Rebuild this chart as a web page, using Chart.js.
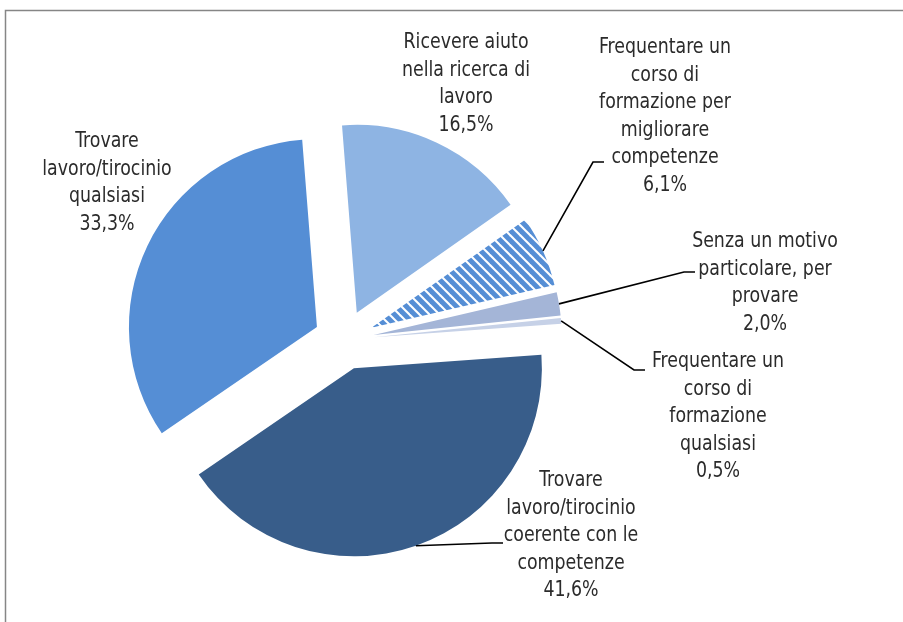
<!DOCTYPE html>
<html>
<head>
<meta charset="utf-8">
<script src="https://cdn.jsdelivr.net/npm/chart.js@4"></script>
<style>
  body { margin: 0; background: #fff; }
</style>
</head>
<body>
<canvas id="myChart" width="903" height="622"></canvas>
<script>
// slices, clockwise from the top
const categories = [
    'Ricevere aiuto\nnella ricerca di\nlavoro',
    'Frequentare un\ncorso di\nformazione per\nmigliorare\ncompetenze',
    'Senza un motivo\nparticolare, per\nprovare',
    'Frequentare un\ncorso di\nformazione\nqualsiasi',
    'Trovare\nlavoro/tirocinio\ncoerente con le\ncompetenze',
    'Trovare\nlavoro/tirocinio\nqualsiasi'
];
const percent = [16.5, 6.1, 2.0, 0.5, 41.6, 33.3];

// where the labels sit (first line centre) and their leader lines
const labelPos = [
    { x: 466, y: 43 },
    { x: 665, y: 48, elbow: [593, 162], end: [604, 162] },
    { x: 765, y: 242, elbow: [684, 272], end: [695, 272] },
    { x: 718, y: 362, elbow: [634, 370], end: [645, 370] },
    { x: 571, y: 481, elbow: [492, 543], end: [503, 543] },
    { x: 107, y: 142 }
];

const RADIUS = 188;
const EXPLODE = 30;   // how far every slice is pulled out
const LINE_H = 27.5;

function stripes(color) {
    const c = document.createElement('canvas');
    c.width = 10;
    c.height = 10;
    const g = c.getContext('2d');
    g.fillStyle = '#fff';
    g.fillRect(0, 0, 10, 10);
    g.strokeStyle = color;
    g.lineWidth = 5;
    for (let k = -1; k <= 1; k++) {
        g.beginPath();
        g.moveTo(k * 10 - 2, -2);
        g.lineTo(k * 10 + 12, 12);
        g.stroke();
    }
    return g.createPattern(c, 'repeat');
}

// pull every slice out along its middle angle (same distance for all,
// like the excel exploded pie)
const explodePlugin = {
    id: 'explode',
    afterDatasetsUpdate(chart) {
        chart.getDatasetMeta(0).data.forEach(arc => {
            const mid = (arc.startAngle + arc.endAngle) / 2;
            arc.x += Math.cos(mid) * EXPLODE;
            arc.y += Math.sin(mid) * EXPLODE;
        });
    }
};

const framePlugin = {
    id: 'frame',
    beforeDraw(chart) {
        const ctx = chart.ctx;
        ctx.save();
        ctx.strokeStyle = '#868686';
        ctx.lineWidth = 1.5;
        ctx.beginPath();
        ctx.moveTo(5.5, 622);
        ctx.lineTo(5.5, 10.5);
        ctx.lineTo(903, 10.5);
        ctx.stroke();
        ctx.restore();
    }
};

const labelPlugin = {
    id: 'pieLabels',
    afterDatasetsDraw(chart) {
        const ctx = chart.ctx;
        const arcs = chart.getDatasetMeta(0).data;
        ctx.save();
        arcs.forEach((arc, i) => {
            const p = labelPos[i];
            if (p.elbow) {
                const mid = (arc.startAngle + arc.endAngle) / 2;
                const sx = arc.x + Math.cos(mid) * arc.outerRadius;
                const sy = arc.y + Math.sin(mid) * arc.outerRadius;
                ctx.strokeStyle = '#000';
                ctx.lineWidth = 1.6;
                ctx.beginPath();
                ctx.moveTo(sx, sy);
                ctx.lineTo(p.elbow[0], p.elbow[1]);
                ctx.lineTo(p.end[0], p.end[1]);
                ctx.stroke();
            }
            const lines = categories[i].split('\n');
            lines.push(percent[i].toFixed(1).replace('.', ',') + '%');
            ctx.fillStyle = '#2b2b2b';
            ctx.font = "21px 'DejaVu Sans Condensed', 'DejaVu Sans', sans-serif";
            ctx.textAlign = 'center';
            ctx.textBaseline = 'middle';
            lines.forEach((t, j) => {
                ctx.save();
                ctx.translate(p.x, p.y + j * LINE_H);
                ctx.scale(0.92, 1);
                ctx.fillText(t, 0, 0);
                ctx.restore();
            });
        });
        ctx.restore();
    }
};

const ctx = document.getElementById('myChart');
const myChart = new Chart(ctx, {
    type: 'pie',
    data: {
        labels: categories,
        datasets: [{
            data: percent,
            backgroundColor: ['#8EB4E3', stripes('#558ED5'), '#A4B5D7', '#C6D1E7', '#385D8A', '#558ED5'],
            borderWidth: 0
        }]
    },
    options: {
        responsive: false,
        animation: false,
        rotation: -4.5,
        radius: RADIUS,
        layout: { padding: { left: 10, right: 225, top: 68, bottom: 10 } },
        plugins: {
            legend: { display: false },
            tooltip: { enabled: false }
        }
    },
    plugins: [explodePlugin, framePlugin, labelPlugin]
});
</script>
</body>
</html>
